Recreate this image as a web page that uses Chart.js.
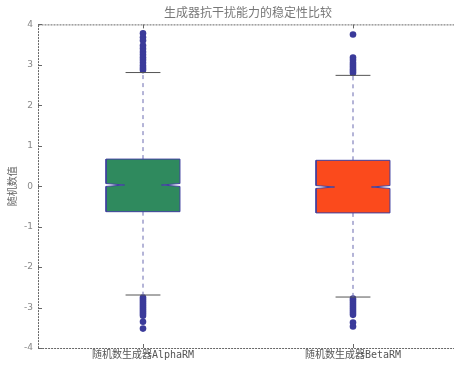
<!DOCTYPE html>
<html>
<head>
<meta charset="utf-8">
<script src="https://cdn.jsdelivr.net/npm/chart.js@4"></script>
<style>
  body { margin: 0; overflow: hidden; background: #fff; }
</style>
</head>
<body>
<canvas id="boxChart" width="462" height="368"></canvas>
<script>
// data
const categories = ['随机数生成器AlphaRM', '随机数生成器BetaRM'];
const q1 = [-0.63, -0.66];
const medians = [0.03, -0.02];
const q3 = [0.67, 0.64];
const notchHalf = [0.035, 0.035];
const whiskerLow = [-2.69, -2.74];
const whiskerHigh = [2.81, 2.74];
const outliers = [
    [3.78, 3.68, 3.60, 3.48, 3.40, 3.32, 3.25, 3.18, 3.12, 3.05, 2.98, 2.92, 2.87,
     -2.75, -2.80, -2.85, -2.90, -2.95, -3.00, -3.05, -3.10, -3.15, -3.20, -3.35, -3.52],
    [3.75, 3.18, 3.12, 3.05, 3.00, 2.95, 2.90, 2.85, 2.80,
     -2.78, -2.83, -2.88, -2.93, -2.98, -3.03, -3.08, -3.13, -3.18, -3.37, -3.47]
];
const yTicks = [-4, -3, -2, -1, 0, 1, 2, 3, 4];

const boxColors = ['#2f8a5e', '#fb4a1c'];
const edgeColor = '#3f3f9e';
const boxHalf = 0.176;
const capHalf = 0.083;
const cjk = '"DejaVu Sans Mono", "Noto Sans CJK SC"';

let datasets = [];
categories.forEach((c, i) => {
    let x = i + 1;
    let w = boxHalf;
    // notched box outline
    datasets.push({
        data: [
            {x: x - w, y: q3[i]}, {x: x - w, y: medians[i] + notchHalf[i]},
            {x: x - w / 2, y: medians[i]}, {x: x - w, y: medians[i] - notchHalf[i]},
            {x: x - w, y: q1[i]}, {x: x + w, y: q1[i]},
            {x: x + w, y: medians[i] - notchHalf[i]}, {x: x + w / 2, y: medians[i]},
            {x: x + w, y: medians[i] + notchHalf[i]}, {x: x + w, y: q3[i]},
            {x: x - w, y: q3[i]}
        ],
        showLine: true, fill: 'shape', backgroundColor: boxColors[i],
        borderColor: edgeColor, borderWidth: 1, pointRadius: 0, tension: 0
    });
    // whiskers
    [[q3[i], whiskerHigh[i]], [q1[i], whiskerLow[i]]].forEach(p => {
        datasets.push({
            data: [{x: x, y: p[0]}, {x: x, y: p[1]}],
            showLine: true, borderColor: '#6a6ab0', borderWidth: 1,
            borderDash: [4, 4], pointRadius: 0
        });
    });
    // caps
    [whiskerHigh[i], whiskerLow[i]].forEach(v => {
        datasets.push({
            data: [{x: x - capHalf, y: v}, {x: x + capHalf, y: v}],
            showLine: true, borderColor: '#555', borderWidth: 1, pointRadius: 0
        });
    });
    // median
    datasets.push({
        data: [{x: x - w / 2, y: medians[i]}, {x: x + w / 2, y: medians[i]}],
        showLine: true, borderColor: '#e53a1a', borderWidth: 1, pointRadius: 0
    });
    // outliers
    datasets.push({
        data: outliers[i].map(v => ({x: x, y: v})),
        showLine: false, pointRadius: 3.3, pointBackgroundColor: '#3a3a9a',
        pointBorderWidth: 0
    });
});

const framePlugin = {
    id: 'frame',
    afterDatasetsDraw(chart) {
        let ctx = chart.ctx;
        let a = chart.chartArea;
        let xs = chart.scales.x, ys = chart.scales.y;
        ctx.save();
        ctx.strokeStyle = '#666';
        ctx.lineWidth = 1;
        ctx.setLineDash([2, 1]);
        ctx.strokeRect(a.left + 0.5, a.top + 0.5, a.right - a.left, a.bottom - a.top);
        ctx.setLineDash([]);
        ctx.beginPath();
        yTicks.forEach(v => {
            let y = Math.round(ys.getPixelForValue(v)) + 0.5;
            ctx.moveTo(a.left, y); ctx.lineTo(a.left + 4, y);
            ctx.moveTo(a.right, y); ctx.lineTo(a.right - 4, y);
        });
        categories.forEach((c, i) => {
            let x = Math.round(xs.getPixelForValue(i + 1)) + 0.5;
            ctx.moveTo(x, a.top); ctx.lineTo(x, a.top + 4);
            ctx.moveTo(x, a.bottom); ctx.lineTo(x, a.bottom - 4);
        });
        ctx.stroke();
        ctx.restore();
    }
};

new Chart(document.getElementById('boxChart'), {
    type: 'scatter',
    data: { datasets: datasets },
    options: {
        responsive: false,
        animation: false,
        layout: { padding: { right: 4, left: 0, top: 0, bottom: 0 } },
        plugins: {
            legend: { display: false },
            tooltip: { enabled: false },
            title: {
                display: true,
                text: '生成器抗干扰能力的稳定性比较',
                fullSize: false,
                color: '#777',
                font: { family: '"Noto Sans CJK SC"', size: 12, weight: 'normal' },
                padding: { top: 5, bottom: 5 }
            }
        },
        scales: {
            x: {
                type: 'linear',
                min: 0.5,
                max: 2.5,
                grid: { display: false, drawTicks: false },
                border: { display: false },
                afterBuildTicks: s => { s.ticks = categories.map((c, i) => ({value: i + 1})); },
                afterFit: s => { s.height = 20; },
                ticks: {
                    padding: 1,
                    color: '#555',
                    font: { family: cjk, size: 10 },
                    callback: v => categories[v - 1]
                }
            },
            y: {
                min: -4,
                max: 4,
                grid: { display: false, drawTicks: false },
                border: { display: false },
                afterBuildTicks: s => { s.ticks = yTicks.map(v => ({value: v})); },
                afterFit: s => { s.width = 38; },
                title: {
                    display: true,
                    text: '随机数值',
                    color: '#666',
                    font: { family: '"Noto Sans CJK SC"', size: 10 },
                    padding: { top: 6, bottom: 2 }
                },
                ticks: {
                    padding: 5,
                    color: '#888',
                    font: { family: '"DejaVu Sans"', size: 9 }
                }
            }
        }
    },
    plugins: [framePlugin]
});
</script>
</body>
</html>
